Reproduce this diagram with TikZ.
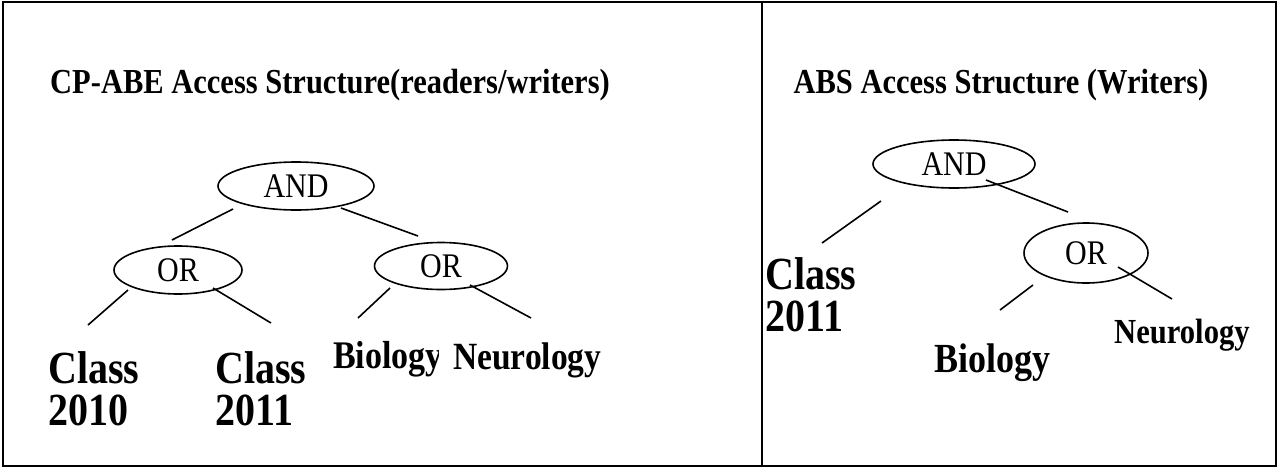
\documentclass[tikz,border=0pt]{standalone}
\usepackage{fontspec}
\usepackage{graphicx}
\setmainfont{Liberation Serif}
\usetikzlibrary{shapes.geometric,calc}
% slightly taller glyphs, as in the printed figure
\newcommand{\tallbox}[1]{\scalebox{1}[1.15]{#1}}
\begin{document}
\begin{tikzpicture}[x=1pt,y=-1pt,
  gate/.style={ellipse,draw,line width=1.6pt,inner sep=0pt,font=\fontsize{30}{30}\selectfont},
  edge/.style={line width=1.6pt},
  tall/.style={transform shape,yscale=1.15},
  title/.style={tall,font=\bfseries\fontsize{30.5}{30.5}\selectfont,inner sep=0pt},
  leaf/.style={tall,font=\bfseries\fontsize{40}{36.5}\selectfont,inner sep=0pt,align=left,anchor=base west},
  leafs/.style={tall,font=\bfseries\fontsize{34}{34}\selectfont,inner sep=0pt,anchor=base west}]
\useasboundingbox (0,0) rectangle (1279,469);
% panel frames
\draw[line width=2pt] (3,2) rectangle (1276,466);
\draw[line width=2pt] (762,2) -- (762,466);

% ---- CP-ABE panel ----
\node[title] (t1) at (330,85) {CP-ABE Access Structure(readers/writers)};
\node[gate,minimum width=156,minimum height=48] (and1) at (296,186) {\tallbox{AND}};
\node[gate,minimum width=128,minimum height=48] (or1) at (178,270) {\tallbox{OR}};
\node[gate,minimum width=133,minimum height=47] (or2) at (441,266) {\tallbox{OR}};
% two-line labels: the anchor sits on the baseline of the second line
\node[leaf] (c10) at (48,425) {Class\\2010};
\node[leaf] (c11) at (215,425) {Class\\2011};
\begin{scope}
  \clip (330,330) rectangle (438,400);
  \node[leafs] (bio1) at (333,368) {Biology};
\end{scope}
\node[leafs,font=\bfseries\fontsize{33.5}{33.5}\selectfont] (neu1) at (453,369) {Neurology};

\draw[edge] ($(and1)+(-63,23)$) -- ($(or1)+(-6,-30)$);
\draw[edge] ($(and1)+(45,22)$) -- ($(or2)+(-23,-30)$);
\draw[edge] ($(or1)+(-50,20)$) -- ($(c10.base west)+(40,-100)$);
\draw[edge] ($(or1)+(35,18)$) -- ($(c11.base west)+(56,-102)$);
\draw[edge] ($(or2)+(-51,22)$) -- ($(bio1.base west)+(25,-50)$);
\draw[edge] ($(or2)+(29,19)$) -- ($(neu1.base west)+(78,-51)$);

% ---- ABS panel ----
\node[title] (t2) at (1001,85) {ABS Access Structure (Writers)};
\node[gate,minimum width=162,minimum height=48] (and2) at (954,164) {\tallbox{AND}};
\node[gate,minimum width=124,minimum height=60] (or3) at (1086,253) {\tallbox{OR}};
\node[leaf] (c11b) at (765,331) {Class\\2011};
\node[leafs,font=\bfseries\fontsize{36}{36}\selectfont] (bio2) at (934,372) {Biology};
\node[leafs,font=\bfseries\fontsize{30.6}{30.6}\selectfont] (neu2) at (1114,343) {Neurology};

\draw[edge] ($(and2)+(-73,37)$) -- ($(c11b.base west)+(57,-88)$);
\draw[edge] ($(and2)+(32,16)$) -- ($(or3)+(-18,-41)$);
\draw[edge] ($(or3)+(-53,32)$) -- ($(bio2.base west)+(66,-62)$);
\draw[edge] ($(or3)+(32,14)$) -- ($(neu2.base west)+(58,-44)$);
\end{tikzpicture}
\end{document}
